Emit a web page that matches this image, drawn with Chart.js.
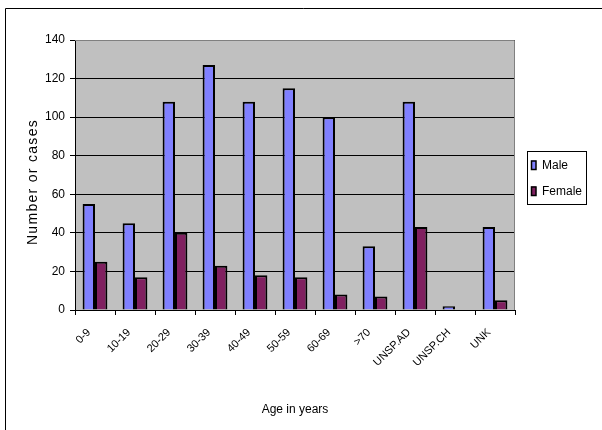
<!DOCTYPE html>
<html>
<head>
<meta charset="utf-8">
<script src="https://cdn.jsdelivr.net/npm/chart.js@4/dist/chart.umd.min.js"></script>
<style>
  html, body { margin: 0; padding: 0; background: #ffffff; }
  #wrap { width: 602px; height: 430px; position: relative; overflow: hidden; }
</style>
</head>
<body>
<div id="wrap"><canvas id="c" width="602" height="430"></canvas></div>
<script>
// Cases by age group and sex
const ageGroups = ['0-9', '10-19', '20-29', '30-39', '40-49', '50-59', '60-69', '>70', 'UNSP.AD', 'UNSP.CH', 'UNK'];
const maleCases = [55, 45, 108, 127, 108, 115, 100, 33, 108, 2, 43];
const femaleCases = [25, 17, 40, 23, 18, 17, 8, 7, 43, 0, 5];
const yTickValues = [0, 20, 40, 60, 80, 100, 120, 140];
const seriesNames = ['Male', 'Female'];
const xTitle = 'Age in years';
const yTitle = 'Number or cases';

const FONT = '"Liberation Sans", Arial, sans-serif';
const MALE_COLOR = '#8080FF';
const FEMALE_COLOR = '#802060';

// Grey plot area, outer frame, axis titles and the boxed legend
const frame = {
  id: 'frame',
  beforeDraw(chart) {
    const { ctx, chartArea: a } = chart;
    ctx.save();
    ctx.fillStyle = '#ffffff';
    ctx.fillRect(0, 0, chart.width, chart.height);
    // frame: only the top and left edges fall inside the canvas
    ctx.strokeStyle = '#000000';
    ctx.lineWidth = 1;
    ctx.beginPath();
    ctx.moveTo(5.5, chart.height);
    ctx.lineTo(5.5, 8.5);
    ctx.lineTo(chart.width, 8.5);
    ctx.stroke();
    ctx.fillStyle = '#C0C0C0';
    ctx.fillRect(a.left, a.top, a.right - a.left, a.bottom - a.top);
    ctx.restore();
  },
  afterDatasetsDraw(chart) {
    const { ctx, chartArea: a } = chart;
    ctx.save();
    ctx.strokeStyle = '#808080';
    ctx.lineWidth = 1;
    ctx.beginPath();
    ctx.moveTo(a.left, a.top + 0.5);
    ctx.lineTo(a.right - 0.5, a.top + 0.5);
    ctx.lineTo(a.right - 0.5, a.bottom);
    ctx.stroke();
    ctx.restore();
  },
  afterDraw(chart) {
    const { ctx, chartArea: a } = chart;
    ctx.save();
    ctx.fillStyle = '#000000';
    ctx.font = '12px ' + FONT;
    ctx.textAlign = 'center';
    ctx.textBaseline = 'middle';
    ctx.fillText(xTitle, (a.left + a.right) / 2, 410);

    ctx.save();
    ctx.translate(33.5, 183);
    ctx.rotate(-Math.PI / 2);
    ctx.font = '14px ' + FONT;
    ctx.letterSpacing = '1.3px';
    ctx.fillText(yTitle, 1, 0);
    ctx.restore();

    // legend
    ctx.strokeStyle = '#000000';
    ctx.lineWidth = 1;
    ctx.strokeRect(527.5, 151.5, 59, 53);
    const rows = [165, 191];
    chart.data.datasets.forEach((ds, i) => {
      const y = rows[i];
      ctx.fillStyle = ds.backgroundColor;
      ctx.fillRect(531, y - 4.5, 5, 9);
      ctx.strokeStyle = '#000000';
      ctx.lineWidth = 1.5;
      ctx.strokeRect(531.5, y - 4, 4.5, 8.5);
      ctx.fillStyle = '#000000';
      ctx.font = '12px ' + FONT;
      ctx.textAlign = 'left';
      ctx.textBaseline = 'middle';
      ctx.fillText(ds.label, 542, y + 0.5);
    });
    ctx.restore();
  }
};

new Chart(document.getElementById('c'), {
  type: 'bar',
  data: {
    labels: ageGroups,
    datasets: [
      { label: seriesNames[0], data: maleCases, backgroundColor: MALE_COLOR, borderColor: '#000000', borderWidth: 2 },
      { label: seriesNames[1], data: femaleCases, backgroundColor: FEMALE_COLOR, borderColor: '#000000', borderWidth: 2 }
    ]
  },
  options: {
    responsive: false,
    animation: false,
    devicePixelRatio: 1,
    layout: { padding: { left: 0, right: 87, top: 40, bottom: 0 } },
    datasets: { bar: { barPercentage: 1, categoryPercentage: 0.62 } },
    plugins: { legend: { display: false }, tooltip: { enabled: false } },
    scales: {
      x: {
        grid: { offset: true, drawOnChartArea: false, drawTicks: true, tickLength: 5, color: '#000000' },
        border: { display: true, color: '#000000', width: 1 },
        ticks: {
          color: '#000000',
          font: { family: FONT, size: 11 },
          minRotation: 45,
          maxRotation: 45,
          autoSkip: false,
          padding: 11,
          labelOffset: -6
        },
        afterFit(scale) { scale.height = 120; }
      },
      y: {
        min: 0,
        max: 140,
        afterBuildTicks(scale) { scale.ticks = yTickValues.map(v => ({ value: v })); },
        grid: { color: '#000000', lineWidth: 1, drawTicks: true, tickLength: 5 },
        border: { display: true, color: '#000000', width: 1 },
        ticks: { color: '#000000', font: { family: FONT, size: 12 }, padding: 5 },
        afterFit(scale) { scale.width = 75; }
      }
    }
  },
  plugins: [frame]
});
</script>
</body>
</html>
